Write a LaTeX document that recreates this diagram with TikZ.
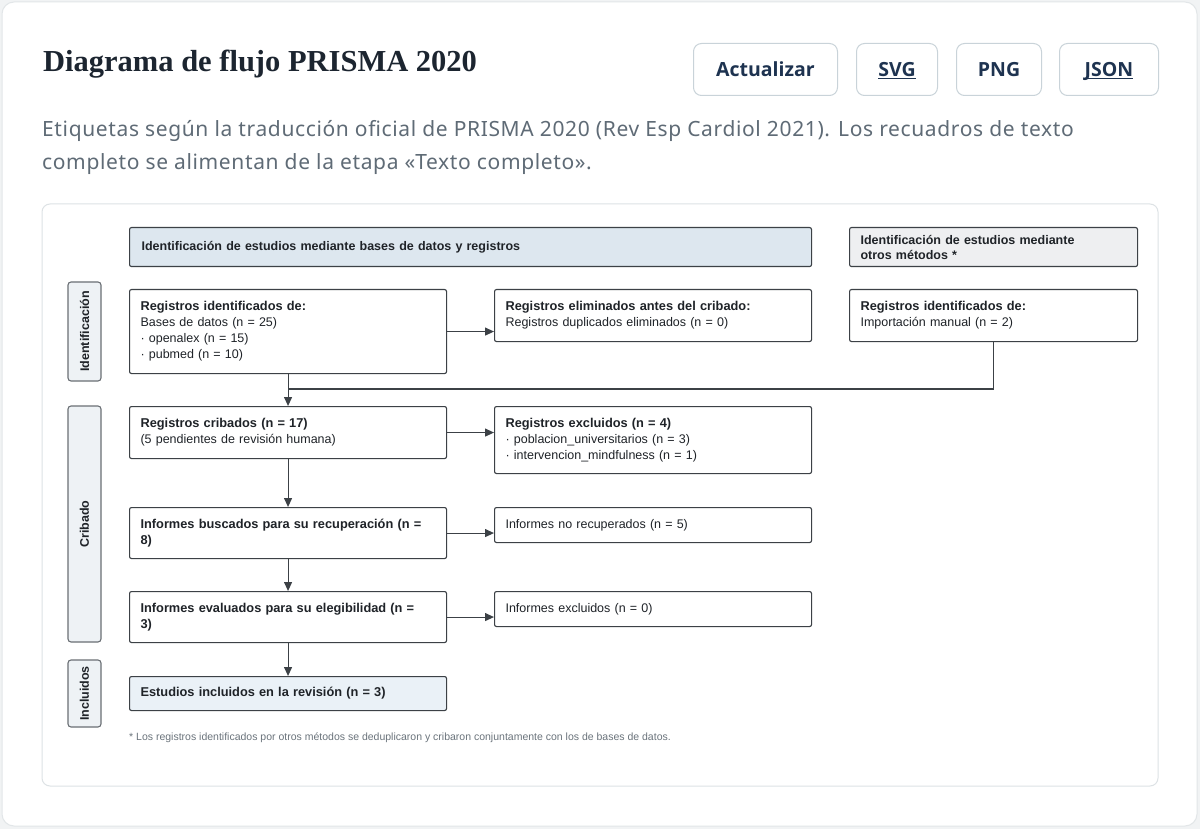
\documentclass[tikz,border=0pt]{standalone}
\usepackage{fontspec}
\setmainfont{Liberation Sans}
\newfontfamily\titulo{Liberation Serif}
\newfontfamily\interfaz{Noto Sans}[LetterSpace=3]
\newfontfamily\botones{Open Sans}
\usetikzlibrary{arrows.meta}

\definecolor{fondo}{HTML}{F1F3F4}
\definecolor{borde}{HTML}{E2E6E8}
\definecolor{bordeinterior}{HTML}{DDE2E5}
\definecolor{negro}{HTML}{1C2530}
\definecolor{gristexto}{HTML}{5F6B76}
\definecolor{bordeboton}{HTML}{C9D3D9}
\definecolor{azuloscuro}{HTML}{1E3350}
\definecolor{trazo}{HTML}{3C4146}
\definecolor{tinta}{HTML}{1F2328}
\definecolor{azulclaro}{HTML}{DDE7EF}
\definecolor{grisclaro}{HTML}{EEEFF1}
\definecolor{etapafondo}{HTML}{EEF2F5}
\definecolor{etapaborde}{HTML}{6A6F74}
\definecolor{incluido}{HTML}{EAF1F7}
\definecolor{nota}{HTML}{6B747C}

\newcommand\subrayado[1]{\underline{\smash{#1}}}
\newcommand\negrita[1]{{\bfseries\fontsize{12.8}{16}\selectfont #1}}

\begin{document}
\begin{tikzpicture}[x=1pt, y=-1pt,
        caja/.style={draw=trazo, fill=white, line width=1.1pt, rounded corners=2pt,
            anchor=north west, align=left, text width=295pt, inner xsep=11pt,
            inner ysep=0pt, text=tinta, font=\fontsize{12.5}{16}\selectfont},
        cabecera/.style={caja, minimum height=39pt},
        etapa/.style={draw=etapaborde, fill=etapafondo, line width=1.1pt, rounded corners=3pt,
            rotate=90, minimum height=33pt, inner sep=0pt, text=tinta,
            font=\bfseries\fontsize{12.5}{15}\selectfont},
        boton/.style={draw=bordeboton, line width=1pt, rounded corners=8pt, anchor=north west,
            minimum height=52pt, inner sep=0pt, text height=14.5pt, text depth=0pt,
            text=azuloscuro, font=\botones\bfseries\fontsize{19.5}{24}\selectfont},
        flecha/.style={draw=trazo, line width=1.1pt, -{Triangle[length=9pt,width=8pt]}},
        linea/.style={draw=trazo, line width=1.1pt},
    ]
    \useasboundingbox (0,0) rectangle (1200,829);
    \fill[fondo] (0,0) rectangle (1200,829);
    \draw[borde, fill=white, line width=1pt, rounded corners=12pt] (2,2) rectangle (1197,826);
    \draw[bordeinterior, fill=white, line width=1pt, rounded corners=8pt] (42,204) rectangle (1158,786);

    \node[anchor=base west, inner sep=0pt, text=negro, font=\titulo\bfseries\fontsize{30.5}{36}\selectfont] (titulo) at (43,72) {Diagrama de flujo PRISMA 2020};
    \node[boton, minimum width=144pt] (actualizar) at (693,43) {Actualizar};
    \node[boton, minimum width=81pt] (svg) at (856,43) {\subrayado{SVG}};
    \node[boton, minimum width=85pt] (png) at (956,43) {PNG};
    \node[boton, minimum width=99pt] (json) at (1059,43) {\subrayado{JSON}};

    \node[anchor=base west, inner sep=0pt, text=gristexto, font=\interfaz\fontsize{21}{24}\selectfont] (sub1) at (42,137) {Etiquetas según la traducción oficial de PRISMA 2020 (Rev Esp Cardiol 2021). Los recuadros de texto};
    \node[anchor=base west, inner sep=0pt, text=gristexto, font=\interfaz\fontsize{21}{24}\selectfont] (sub2) at (42,170) {completo se alimentan de la etapa «Texto completo».};

    \node[cabecera, fill=azulclaro, text width=658pt, inner xsep=12pt, font=\bfseries\fontsize{12.5}{15}\selectfont] (cab1) at (129,227) {Identificación de estudios mediante bases de datos y registros};
    \node[cabecera, fill=grisclaro, text width=266pt, font=\bfseries\fontsize{12.5}{15}\selectfont] (cab2) at (849,227) {Identificación de estudios mediante\\otros métodos *};

    \node[etapa, minimum width=99pt] (identificacion) at (84.5,331.5) {Identificación};
    \node[etapa, minimum width=236pt] (cribado) at (84.5,524) {Cribado};
    \node[etapa, minimum width=67pt] (incluidos) at (84.5,693.5) {Incluidos};

    \node[caja, minimum height=84pt] (a) at (129,289) {\negrita{Registros identificados de:}\\Bases de datos (n = 25)\\· openalex (n = 15)\\· pubmed (n = 10)};
    \node[caja, minimum height=52pt] (b) at (494,289) {\negrita{Registros eliminados antes del cribado:}\\Registros duplicados eliminados (n = 0)};
    \node[caja, minimum height=52pt, text width=266pt] (c) at (849,289) {\negrita{Registros identificados de:}\\Importación manual (n = 2)};
    \node[caja, minimum height=52pt] (d) at (129,406) {\negrita{Registros cribados (n = 17)}\\(5 pendientes de revisión humana)};
    \node[caja, minimum height=67pt] (e) at (494,406) {\negrita{Registros excluidos (n = 4)}\\· poblacion\_universitarios (n = 3)\\· intervencion\_mindfulness (n = 1)};
    \node[caja, minimum height=51pt] (f) at (129,507) {\negrita{Informes buscados para su recuperación (n =}\\\negrita{8)}};
    \node[caja, minimum height=35pt] (g) at (494,507) {Informes no recuperados (n = 5)};
    \node[caja, minimum height=51pt] (h) at (129,591) {\negrita{Informes evaluados para su elegibilidad (n =}\\\negrita{3)}};
    \node[caja, minimum height=35pt] (i) at (494,591) {Informes excluidos (n = 0)};
    \node[caja, minimum height=34pt, fill=incluido] (j) at (129,676) {\negrita{Estudios incluidos en la revisión (n = 3)}};

    \node[anchor=base west, inner sep=0pt, text=nota, font=\fontsize{10.5}{12}\selectfont] (nota) at (129,740) {* Los registros identificados por otros métodos se deduplicaron y cribaron conjuntamente con los de bases de datos.};

    \coordinate (junta) at (287.5,389);

    \draw[flecha] (a.east) -- (a.east -| b.west);
    \draw[flecha] (a.south) -- (d.north);
    \draw[linea] (c.south) |- (junta);
    \draw[flecha] (d.east) -- (d.east -| e.west);
    \draw[flecha] (d.south) -- (f.north);
    \draw[flecha] (f.east) -- (f.east -| g.west);
    \draw[flecha] (f.south) -- (h.north);
    \draw[flecha] (h.east) -- (h.east -| i.west);
    \draw[flecha] (h.south) -- (j.north);

\end{tikzpicture}
\end{document}
